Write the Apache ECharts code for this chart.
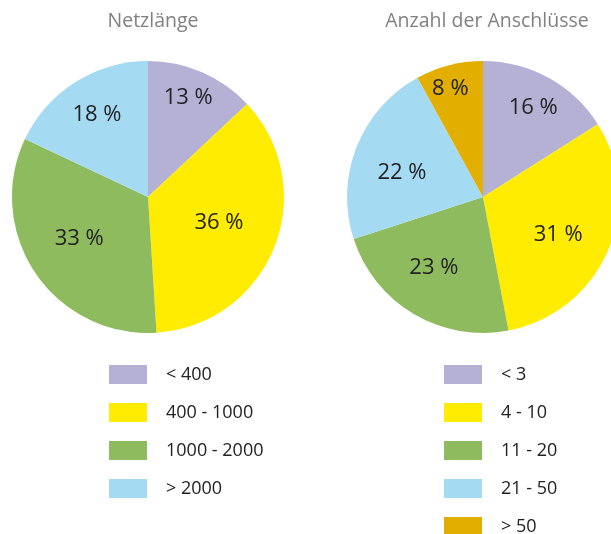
<!DOCTYPE html>
<html>
<head>
<meta charset="utf-8">
<script src="https://cdn.jsdelivr.net/npm/echarts@6/dist/echarts.min.js"></script>
<style>
  html, body { margin: 0; padding: 0; background: #fff; }
  #chart { width: 611px; height: 534px; }
</style>
</head>
<body>
<div id="chart"></div>
<script>
// Netzlänge
const lenNames = ['< 400', '400 - 1000', '1000 - 2000', '> 2000']
const lenValues = [13, 36, 33, 18]
// Anzahl der Anschlüsse
const conNames = ['< 3', '4 - 10', '11 - 20', '21 - 50', '> 50']
const conValues = [16, 31, 23, 22, 8]

const colors = ['#b5b1d5', '#ffec00', '#8fbb5f', '#a5daf3', '#e2ae00']

// label nudges from default inside position
const lenNudge = [[12, -34], [5, 0], [-10, 2], [-13, -22]]
const conNudge = [[16, -27], [10, 10], [-13, 10], [-15, 2], [-15, -39]]

const chart = echarts.init(document.getElementById('chart'))

const toData = (names, values) => names.map((n, i) => ({
  name: n,
  value: values[i],
  itemStyle: { color: colors[i] },
}))

const pieBase = {
  type: 'pie',
  radius: 136,
  startAngle: 90,
  clockwise: true,
  silent: true,
  label: {
    show: true,
    position: 'inside',
    formatter: '{c} %',
    fontSize: 22,
    color: '#222',
    fontFamily: 'Open Sans',
  },
  labelLine: { show: false },
}

const legendBase = {
  orient: 'vertical',
  icon: 'rect',
  itemWidth: 38,
  itemHeight: 19,
  itemGap: 19,
  selectedMode: false,
  padding: 0,
  top: 365,
  height: 220,
  textStyle: {
    fontSize: 18,
    color: '#222',
    fontFamily: 'Open Sans',
    padding: [0, 0, 0, 14],
  },
}

const titleStyle = { fontSize: 19.5, fontWeight: 'normal', color: '#808080', fontFamily: 'Open Sans' }

chart.setOption({
  animation: false,
  title: [
    { text: 'Netzlänge', left: 148, top: 6, textAlign: 'center', textStyle: titleStyle },
    { text: 'Anzahl der Anschlüsse', left: 482, top: 6, textAlign: 'center', textStyle: titleStyle },
  ],
  legend: [
    Object.assign({}, legendBase, { left: 109, data: lenNames }),
    Object.assign({}, legendBase, { left: 444, data: conNames }),
  ],
  series: [
    Object.assign({}, pieBase, {
      name: 'Netzlänge',
      center: [148, 197],
      data: toData(lenNames, lenValues),
      labelLayout: function (p) {
        const n = lenNudge[p.dataIndex]
        return { dx: n[0], dy: n[1] }
      },
    }),
    Object.assign({}, pieBase, {
      name: 'Anzahl der Anschlüsse',
      center: [483, 197],
      data: toData(conNames, conValues),
      labelLayout: function (p) {
        const n = conNudge[p.dataIndex]
        return { dx: n[0], dy: n[1] }
      },
    }),
  ],
})
</script>
</body>
</html>
